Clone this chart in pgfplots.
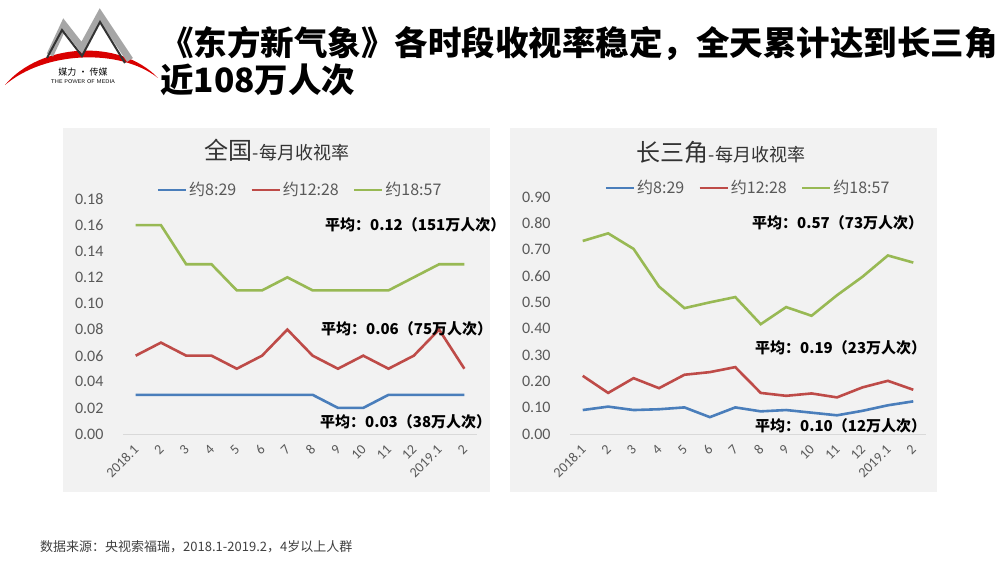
\documentclass[border=0pt]{standalone}
\usepackage{pgfplots}
\pgfplotsset{compat=1.18}
\usepackage{fontspec}
\setmainfont{Carlito}
\newfontfamily\cjk{Noto Sans CJK SC}
\definecolor{xblue}{HTML}{4A7EBB}
\definecolor{xred}{HTML}{BE4B48}
\definecolor{xgreen}{HTML}{98B954}
\definecolor{panel}{HTML}{F2F2F2}
\definecolor{tickc}{HTML}{595959}
\pgfplotsset{
  panelaxis/.style={
    scale only axis, anchor=south west,
    xmin=-0.5, xmax=13.5, ymin=0,
    axis lines=left,
    axis line style={-},
    y axis line style={draw=none},
    x axis line style={draw=black!15, line width=0.8pt},
    major tick length=0pt,
    xtick={0,...,13},
    xticklabels={2018.1,2,3,4,5,6,7,8,9,10,11,12,2019.1,2},
    xticklabel style={xshift=3pt, yshift=-11pt, rotate=45, anchor=east, font=\fontsize{14}{14}\selectfont, text=tickc},
    yticklabel style={font=\fontsize{16}{16}\selectfont, text=tickc, xshift=-16pt,
      /pgf/number format/.cd, fixed, fixed zerofill, precision=2, assume math mode=true},
    legend columns=3,
    legend style={draw=none, fill=none, at={(0.5,1)}, anchor=center, yshift=9pt,
      font=\cjk\fontsize{16}{16}\selectfont, text=tickc,
      /tikz/every even column/.append style={column sep=12pt}},
    legend image code/.code={\draw[#1, line width=2.6pt] (0pt,0pt) -- (28pt,0pt);},
    every axis plot/.append style={line width=2.6pt, no markers, sharp plot},
    clip=false,
  }
}
\begin{document}
\begin{tikzpicture}
\begin{scope}[x=1pt,y=1pt]
\fill[white] (0,0) rectangle (1000,563);
\useasboundingbox (0,0) rectangle (1000,563);
% logo
\fill[red!85!black] (5,478) .. controls (40,520) and (120,525) .. (158,485) .. controls (120,515) and (45,512) .. (5,478) -- cycle;
\draw[gray!70, line width=7pt, line join=miter] (50,508) -- (64,538) -- (82,515) -- (100,548) -- (130,503);
\draw[black!80, line width=2pt, line join=miter] (47,505) -- (62,533) -- (82,507) -- (100,541) -- (125,500);
\node[font=\cjk\fontsize{9}{9}\selectfont] at (83,491) {媒力 · 传媒};
\node[font=\sffamily\fontsize{5.5}{5.5}\selectfont] at (83,481) {THE POWER OF MEDIA};
% title
\node[anchor=west, font=\cjk\bfseries\fontsize{33.5}{33.5}\selectfont, inner sep=0pt] at (160,520) {《东方新气象》各时段收视率稳定，全天累计达到长三角};
\node[anchor=west, font=\cjk\bfseries\fontsize{33.5}{33.5}\selectfont, inner sep=0pt] at (160,483) {近108万人次};
% footer
\node[anchor=west, font=\cjk\fontsize{13}{13}\selectfont, text=black!75, inner sep=0pt] at (40,16) {数据来源：央视索福瑞，2018.1-2019.2，4岁以上人群};
% panels
\fill[panel] (63,71) rectangle (490,435);
\fill[panel] (510,71) rectangle (937,435);
% panel titles
\node[text=black!80, inner sep=0pt] at (277,413) {\cjk\fontsize{24}{24}\selectfont 全国\fontsize{18}{18}\selectfont -每月收视率};
\node[text=black!80, inner sep=0pt] at (721,411) {\cjk\fontsize{24}{24}\selectfont 长三角\fontsize{18}{18}\selectfont -每月收视率};
\end{scope}
% left axis
\begin{axis}[panelaxis, at={(123pt,129pt)}, width=354pt, height=235pt, ymax=0.18,
  ytick={0,0.02,0.04,0.06,0.08,0.10,0.12,0.14,0.16,0.18}]
\addplot[xblue] coordinates {(0,0.03)(1,0.03)(2,0.03)(3,0.03)(4,0.03)(5,0.03)(6,0.03)(7,0.03)(8,0.02)(9,0.02)(10,0.03)(11,0.03)(12,0.03)(13,0.03)};
\addlegendentry{约8:29}
\addplot[xred] coordinates {(0,0.06)(1,0.07)(2,0.06)(3,0.06)(4,0.05)(5,0.06)(6,0.08)(7,0.06)(8,0.05)(9,0.06)(10,0.05)(11,0.06)(12,0.08)(13,0.05)};
\addlegendentry{约12:28}
\addplot[xgreen] coordinates {(0,0.16)(1,0.16)(2,0.13)(3,0.13)(4,0.11)(5,0.11)(6,0.12)(7,0.11)(8,0.11)(9,0.11)(10,0.11)(11,0.12)(12,0.13)(13,0.13)};
\addlegendentry{约18:57}
\end{axis}
% right axis
\begin{axis}[panelaxis, at={(570pt,129pt)}, width=356pt, height=237pt, ymax=0.9,
  ytick={0,0.1,0.2,0.3,0.4,0.5,0.6,0.7,0.8,0.9}]
\addplot[xblue] coordinates {(0,0.091)(1,0.104)(2,0.091)(3,0.094)(4,0.101)(5,0.064)(6,0.101)(7,0.086)(8,0.091)(9,0.081)(10,0.071)(11,0.088)(12,0.109)(13,0.124)};
\addlegendentry{约8:29}
\addplot[xred] coordinates {(0,0.221)(1,0.156)(2,0.212)(3,0.174)(4,0.225)(5,0.235)(6,0.254)(7,0.156)(8,0.145)(9,0.154)(10,0.139)(11,0.177)(12,0.202)(13,0.168)};
\addlegendentry{约12:28}
\addplot[xgreen] coordinates {(0,0.733)(1,0.762)(2,0.703)(3,0.560)(4,0.478)(5,0.500)(6,0.520)(7,0.417)(8,0.482)(9,0.449)(10,0.527)(11,0.597)(12,0.678)(13,0.651)};
\addlegendentry{约18:57}
\end{axis}
% annotations
\begin{scope}[x=1pt,y=1pt,every node/.style={anchor=west, inner sep=0pt, font=\cjk\bfseries\fontsize{15}{15}\selectfont}]
\node at (325,338) {平均：0.12（151万人次）};
\node at (321,234) {平均：0.06（75万人次）};
\node at (320,141) {平均：0.03（38万人次）};
\node at (752,340) {平均：0.57（73万人次）};
\node at (755,215) {平均：0.19（23万人次）};
\node at (755,137) {平均：0.10（12万人次）};
\end{scope}
\end{tikzpicture}
\end{document}
